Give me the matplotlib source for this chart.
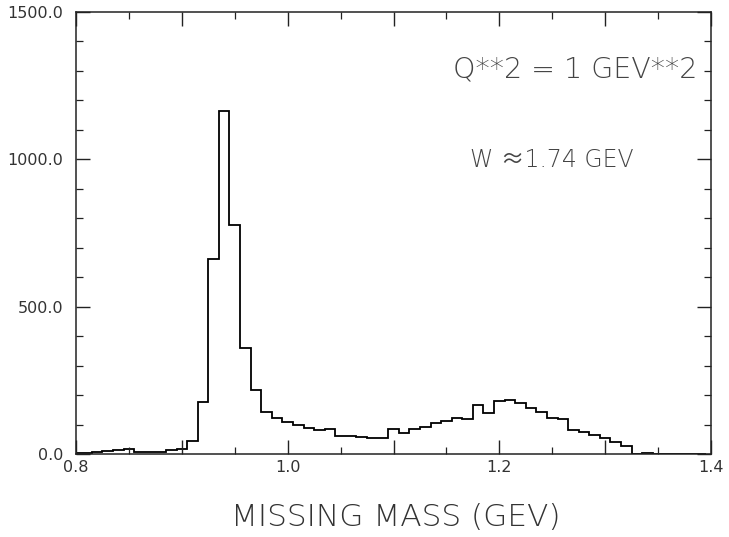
import numpy as np
import matplotlib
matplotlib.use("Agg")
import matplotlib.pyplot as plt
from matplotlib.ticker import MultipleLocator

# bin centres (GeV) and counts
bin_centers = [round(0.80 + 0.01 * i, 2) for i in range(60)]
counts = [5, 5, 6, 10, 14, 18, 8, 6, 8, 13,
          17, 44, 176, 661, 1165, 777, 359, 217, 141, 121,
          110, 98, 87, 83, 86, 62, 60, 56, 53, 53,
          84, 70, 86, 93, 106, 112, 123, 120, 165, 140,
          181, 182, 174, 155, 142, 122, 120, 83, 76, 64,
          53, 42, 27, 0, 3, 0, 0, 0, 0, 0]
bin_width = 0.01
x_tick_values = [0.8, 0.9, 1.0, 1.1, 1.2, 1.3, 1.4]
x_tick_labels = ["0.8", "", "1.0", "", "1.2", "", "1.4"]
y_tick_values = [0, 500, 1000, 1500]
y_tick_labels = ["0.0", "500.0", "1000.0", "1500.0"]
xlabel = "MISSING MASS (GEV)"
text_q2 = "Q**2 = 1 GEV**2"
text_w = "W \u22481.74 GEV"

edges = np.array(bin_centers + [bin_centers[-1] + bin_width]) - bin_width / 2

fig = plt.figure(figsize=(7.29, 5.37), dpi=100)
ax = fig.add_axes([76 / 729, 1 - 454 / 537, (711 - 76) / 729, (454 - 12) / 537])

ax.stairs(counts, edges, color="black", linewidth=1.3)

ax.set_xlim(0.8, 1.4)
ax.set_ylim(0, 1500)

ax.set_xticks(x_tick_values)
ax.set_xticklabels(x_tick_labels)
ax.xaxis.set_minor_locator(MultipleLocator(0.05))
ax.set_yticks(y_tick_values)
ax.set_yticklabels(y_tick_labels)
ax.yaxis.set_minor_locator(MultipleLocator(100))

ax.tick_params(which="both", direction="in", top=True, right=True, colors="#222222")
ax.tick_params(which="major", length=10, width=1.0, labelsize=11.5, labelcolor="#333333")
ax.tick_params(which="minor", length=5, width=0.9)
ax.tick_params(axis="y", which="major", pad=9)
ax.tick_params(axis="x", which="major", pad=4)

for s in ax.spines.values():
    s.set_linewidth(1.1)
    s.set_color("#222222")

fams = ["DejaVu Sans", "Noto Sans CJK SC", "Noto Sans"]

fig.text(396 / 729, 1 - 518 / 537, xlabel, ha="center", va="center",
         fontsize=22.5, color="#333333", fontweight="light", family=fams)

ax.text(0.594, 0.869, text_q2, transform=ax.transAxes, ha="left", va="center",
        fontsize=20.5, color="#444444", fontweight="light", family=fams)
ax.text(0.620, 0.665, text_w, transform=ax.transAxes, ha="left", va="center",
        fontsize=17, color="#444444", fontweight="light", family=fams)

fig.savefig("out.png", dpi=100)
